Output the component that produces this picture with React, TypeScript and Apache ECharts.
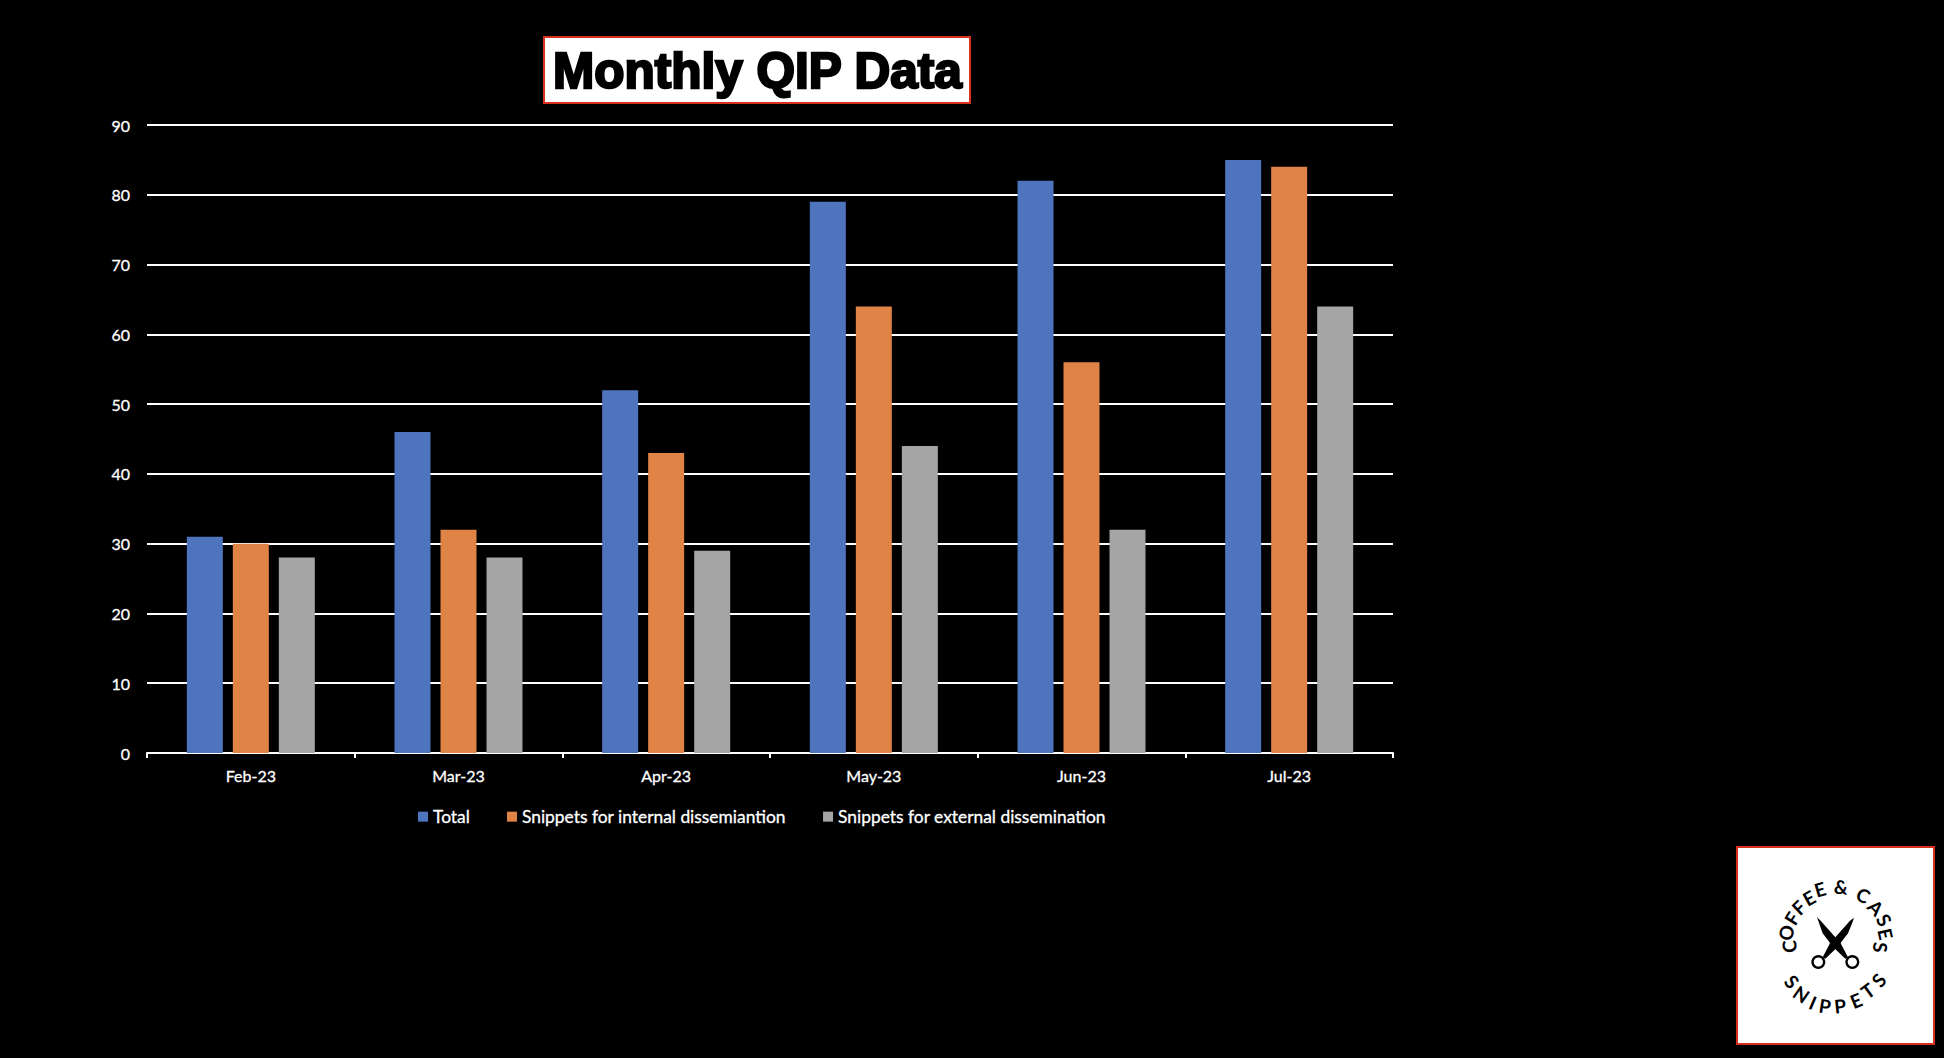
import React, { useEffect, useRef } from "react";
import * as echarts from "echarts";

const titleText = "Monthly QIP Data";
const categories = ["Feb-23", "Mar-23", "Apr-23", "May-23", "Jun-23", "Jul-23"];
const totalValues = [31, 46, 52, 79, 82, 85];
const internalValues = [30, 32, 43, 64, 56, 84];
const externalValues = [28, 28, 29, 44, 32, 64];
const seriesNames = ["Total", "Snippets for internal dissemiantion", "Snippets for external dissemination"];
const seriesColors = ["#4E74BE", "#E08347", "#A5A5A5"];
const font = "Lato";

// Logo letters: [char, x, y, clockwise rotation in degrees] in the 3x zoom coordinates of the logo crop
const logoLetters: [string, number, number, number][] = [
  ["C", 207, 350, -93], ["O", 198, 308, -75], ["F", 215, 265, -58], ["F", 236, 232, -44],
  ["E", 267, 203, -29], ["E", 300, 177, -16], ["&", 363, 170, 5], ["C", 430, 195, 28],
  ["A", 468, 232, 45], ["S", 493, 270, 61], ["E", 497, 312, 77], ["S", 482, 352, 93],
  ["S", 216, 454, 50], ["N", 245, 492, 35], ["I", 279, 517, 23], ["P", 315, 527, 9],
  ["P", 360, 527, -6], ["E", 408, 511, -22], ["T", 443, 482, -36], ["S", 476, 450, -50],
];

export default function App() {
  const ref = useRef<HTMLDivElement>(null);
  useEffect(() => {
    const chart = echarts.init(ref.current!, null, { renderer: "svg" });
    const lx = (v: number) => 1720 + v / 3;
    const ly = (v: number) => 830 + v / 3;
    const bar = (name: string, data: number[], color: string) => ({
      name, type: "bar", data, barWidth: 36, barGap: "27.8%", itemStyle: { color },
    });
    const thick = { textBorderColor: "#fff", textBorderWidth: 0.3 };
    chart.setOption({
      animation: false,
      backgroundColor: "#000",
      title: {
        text: titleText, left: 545, top: 38, padding: [7, 6, 7, 8],
        backgroundColor: "#fff", borderColor: "#D8301F", borderWidth: 2,
        textStyle: {
          fontFamily: "Liberation Sans", fontWeight: "bold", fontSize: 49.5, color: "#000",
          textBorderColor: "#000", textBorderWidth: 2.4,
        },
      },
      legend: {
        left: 418, top: 808, padding: 0, itemWidth: 10, itemHeight: 10, itemGap: 37,
        icon: "rect", data: seriesNames,
        textStyle: { color: "#fff", fontFamily: font, fontSize: 17.4, ...thick },
      },
      grid: { left: 147, right: 551, top: 125, bottom: 305, containLabel: false },
      xAxis: {
        type: "category", data: categories,
        axisLine: { lineStyle: { color: "#fff", width: 2 } },
        axisTick: { show: true, alignWithLabel: false, length: 5, lineStyle: { color: "#fff", width: 2 } },
        axisLabel: { color: "#fff", fontFamily: font, fontSize: 16, margin: 14, ...thick },
      },
      yAxis: {
        type: "value", min: 0, max: 90, interval: 10,
        axisLine: { show: false }, axisTick: { show: false },
        splitLine: { lineStyle: { color: "#fff", width: 2 } },
        axisLabel: { color: "#fff", fontFamily: font, fontSize: 16, margin: 17, ...thick },
      },
      series: [
        bar(seriesNames[0], totalValues, seriesColors[0]),
        bar(seriesNames[1], internalValues, seriesColors[1]),
        bar(seriesNames[2], externalValues, seriesColors[2]),
      ],
      graphic: [
        { type: "rect", shape: { x: 1737, y: 847, width: 197, height: 197 },
          style: { fill: "#fff", stroke: "#D8301F", lineWidth: 2 } },
        { type: "polygon", shape: { points: [[291,262],[302,272],[362,340],[384,382],[376,386],[340,352],[308,310]].map(([x,y]) => [lx(x), ly(y)]) }, style: { fill: "#000" } },
        { type: "polygon", shape: { points: [[402,263],[398,275],[384,310],[352,352],[316,386],[308,382],[330,340],[390,272]].map(([x,y]) => [lx(x), ly(y)]) }, style: { fill: "#000" } },
        { type: "ring", shape: { cx: lx(295), cy: ly(396), r: 7, r0: 4.6 }, style: { fill: "#000" } },
        { type: "ring", shape: { cx: lx(397), cy: ly(396), r: 7, r0: 4.6 }, style: { fill: "#000" } },
        ...logoLetters.map(([c, x, y, rot]) => ({
          type: "text", x: lx(x), y: ly(y), rotation: (-rot * Math.PI) / 180,
          style: { text: c, fill: "#000", fontFamily: font, fontWeight: "bold", fontSize: 19, align: "center", verticalAlign: "middle" },
        })),
      ],
    });
    return () => chart.dispose();
  }, []);
  return <div ref={ref} style={{ position: "fixed", left: 0, top: 0, width: 1944, height: 1058 }} />;
}
